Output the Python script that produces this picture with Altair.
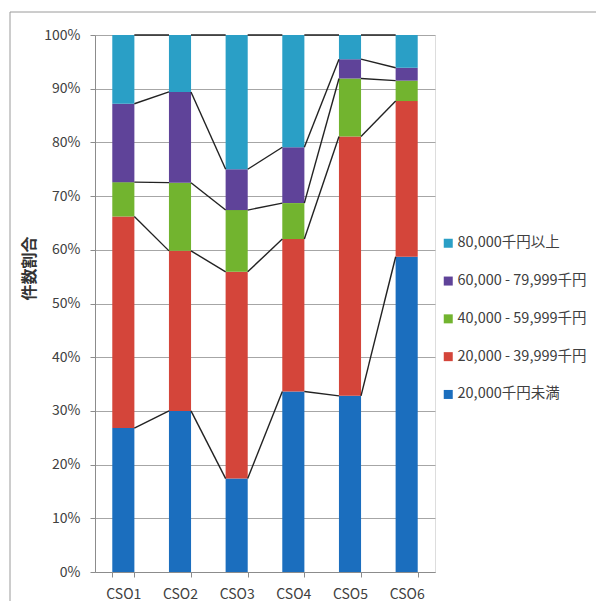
import altair as alt
import pandas as pd

categories = ["CSO1", "CSO2", "CSO3", "CSO4", "CSO5", "CSO6"]
series_names = ["20,000千円未満", "20,000 - 39,999千円", "40,000 - 59,999千円",
                "60,000 - 79,999千円", "80,000千円以上"]
s_under20k = [26.8, 30.0, 17.4, 33.6, 32.8, 58.7]
s_20k_40k = [39.4, 29.8, 38.5, 28.4, 48.3, 29.0]
s_40k_60k = [6.4, 12.7, 11.5, 6.7, 10.8, 3.8]
s_60k_80k = [14.6, 16.9, 7.6, 10.4, 3.6, 2.4]
s_over80k = [12.8, 10.6, 25.0, 20.9, 4.5, 6.1]
series_values = [s_under20k, s_20k_40k, s_40k_60k, s_60k_80k, s_over80k]
colors = ["#1B6EBE", "#D4453A", "#72B42F", "#5F4399", "#2A9FC6"]
y_ticks = [0, 10, 20, 30, 40, 50, 60, 70, 80, 90, 100]

FONT = "Noto Sans CJK JP"

rows = []
for k, (name, vals) in enumerate(zip(series_names, series_values)):
    for c, v in zip(categories, vals):
        rows.append({"cat": c, "series": name, "value": v, "rank": k})
df = pd.DataFrame(rows)

# series lines: connect cumulative tops between neighbouring bars
seg = []
cum = [0.0] * len(categories)
for k, vals in enumerate(series_values):
    cum = [a + b for a, b in zip(cum, vals)]
    for i in range(len(categories) - 1):
        seg.append({"c1": categories[i], "c2": categories[i + 1],
                    "y1": cum[i], "y2": cum[i + 1], "k": k})
seg_df = pd.DataFrame(seg)

legend_domain = list(reversed(series_names))
legend_range = list(reversed(colors))

xscale = alt.Scale(domain=categories, paddingInner=0.61, paddingOuter=0.305)
yscale = alt.Scale(domain=[0, 100], nice=False)

bars = alt.Chart(df).mark_bar().encode(
    x=alt.X("cat:N", scale=xscale, sort=categories, title=None,
            axis=alt.Axis(labelAngle=0, tickBand="extent", tickSize=5,
                          labelPadding=10, labelFontSize=14, labelColor="#404040",
                          labelFont=FONT, domainColor="#8C8C8C", tickColor="#8C8C8C")),
    y=alt.Y("value:Q", stack="zero", scale=yscale, title="件数割合",
            axis=alt.Axis(values=y_ticks, labelExpr="datum.value + '%'",
                          tickSize=5, labelPadding=10, labelFontSize=14,
                          labelColor="#404040", labelFont=FONT,
                          domainColor="#8C8C8C", tickColor="#8C8C8C",
                          gridColor="#A6A6A6", gridWidth=1,
                          titleFont=FONT, titleFontSize=16, titleFontWeight="bold",
                          titleColor="#333333", titleAngle=-90,
                          titleAlign="center", titleBaseline="middle",
                          titleX=-66, titleY=233)),
    color=alt.Color("series:N",
                    scale=alt.Scale(domain=legend_domain, range=legend_range),
                    legend=alt.Legend(title=None, orient="none", legendX=346,
                                      legendY=201, symbolType="square",
                                      symbolSize=81, symbolStrokeWidth=0,
                                      labelFontSize=14.5, labelFont=FONT,
                                      labelColor="#404040", labelOffset=2,
                                      rowPadding=22.8, padding=0, labelLimit=400)),
    order=alt.Order("rank:Q", sort="ascending"),
)

lines = alt.Chart(seg_df).mark_rule(color="#222222", strokeWidth=1.4,
                                    xOffset=11, x2Offset=-11).encode(
    x=alt.X("c1:N", scale=xscale, sort=categories),
    x2="c2:N",
    y=alt.Y("y1:Q", scale=yscale),
    y2="y2:Q",
)

frame = alt.Chart(pd.DataFrame({"a": [0]})).mark_rect(
    fill="transparent", stroke="#9A9A9A", strokeWidth=1).encode(
    x=alt.value(-85), x2=alt.value(700), y=alt.value(-23), y2=alt.value(800))

chart = alt.layer(frame, bars, lines).properties(
    width=340, height=537,
    autosize=alt.AutoSizeParams(type="none"),
    padding={"left": 87, "top": 27, "right": 161, "bottom": 29},
).configure_view(stroke=None).configure(background="white")

chart.save("out.html", embed_options={"renderer": "svg", "actions": False})
